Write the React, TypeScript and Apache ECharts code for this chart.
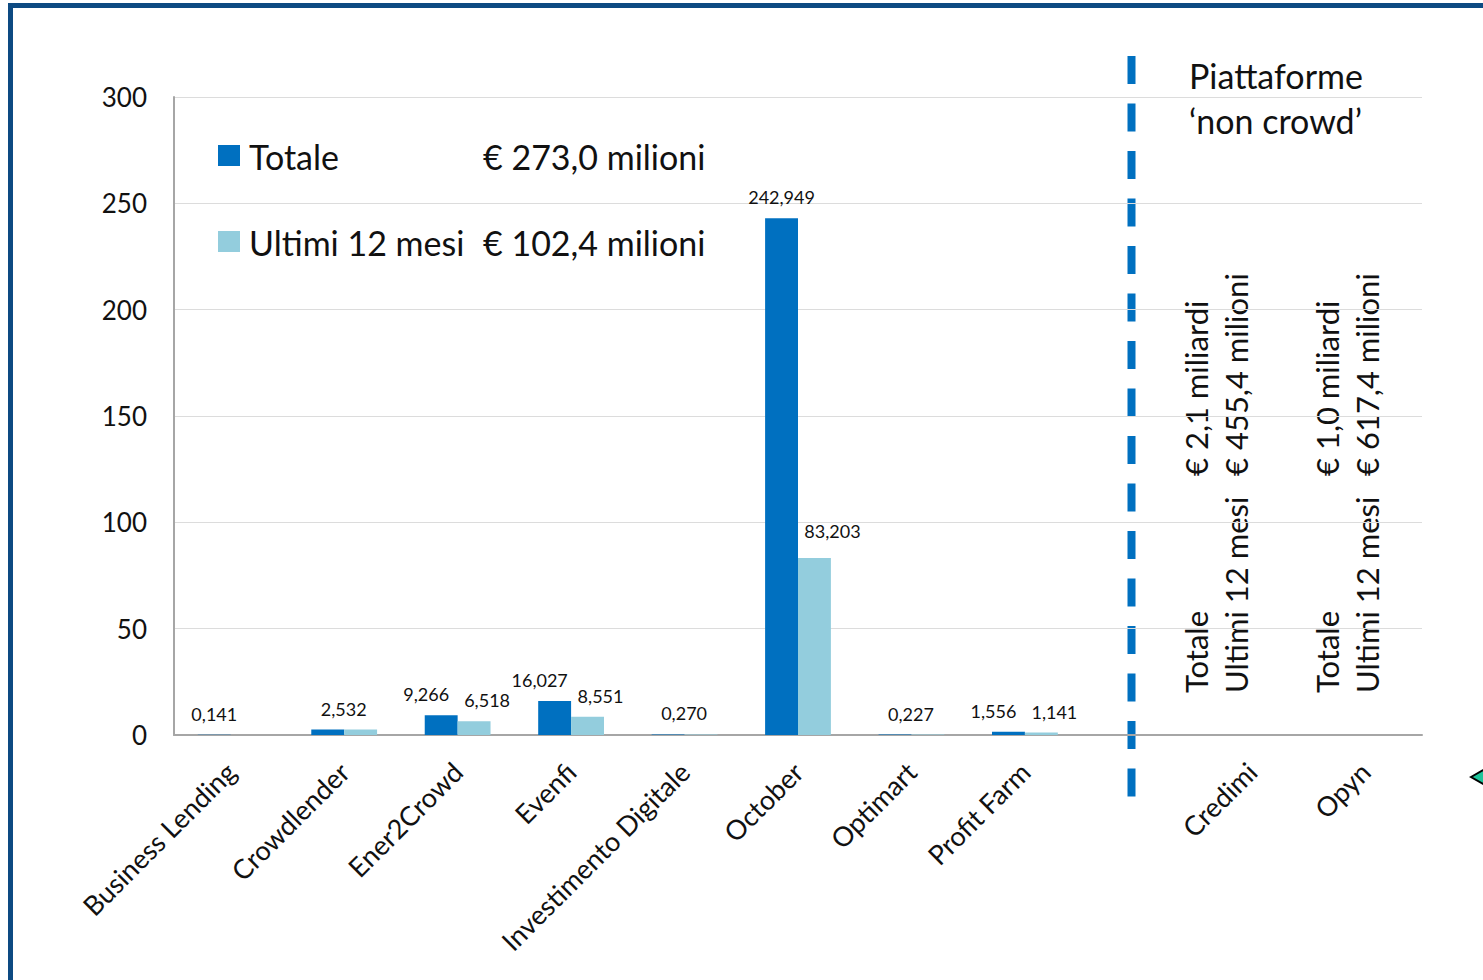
import React, { useEffect, useRef } from "react";
import * as echarts from "echarts";

const categories = [
  "Business Lending",
  "Crowdlender",
  "Ener2Crowd",
  "Evenfi",
  "Investimento Digitale",
  "October",
  "Optimart",
  "Profit Farm",
  "",
  "Credimi",
  "Opyn",
];
const totale: (number | null)[] = [0.141, 2.532, 9.266, 16.027, 0.27, 242.949, 0.227, 1.556, null, null, null];
const ultimi12: (number | null)[] = [null, 2.532, 6.518, 8.551, 0.27, 83.203, 0.227, 1.141, null, null, null];
const yTicks = [0, 50, 100, 150, 200, 250, 300];

const legendRows = [
  { name: "Totale", amount: "€ 273,0 milioni" },
  { name: "Ultimi 12 mesi", amount: "€ 102,4 milioni" },
];
const nonCrowdTitle = ["Piattaforme", "‘non crowd’"];
const nonCrowd = [
  { name: "Credimi", totale: "€ 2,1 miliardi", ultimi: "€ 455,4 milioni" },
  { name: "Opyn", totale: "€ 1,0 miliardi", ultimi: "€ 617,4 milioni" },
];

const DARK = "#0070c0";
const LIGHT = "#93cddd";
const FONT = "Lato, 'Open Sans', sans-serif";
const TXT = "#111";

const fmt = (v: number) => v.toFixed(3).replace(".", ",");

export default function App() {
  const ref = useRef<HTMLDivElement>(null);
  useEffect(() => {
    if (!ref.current) return;
    const chart = echarts.init(ref.current, null, { renderer: "svg" });

    const darkData = totale.map((v, i) => {
      const u = ultimi12[i];
      let dx = 0;
      if (v != null && u != null && u === v) dx = 16;
      else if (v != null && u != null && Math.abs(v - u) < 10) dx = -15;
      return {
        value: v,
        label: { show: v != null, offset: [dx, 0] },
      };
    });
    const lightData = ultimi12.map((u, i) => {
      const v = totale[i];
      const far = v != null && u != null && Math.abs(v - u) >= 10;
      return {
        value: u,
        label: { show: u != null && u !== v, offset: [far ? 18 : 13, far ? -6 : 0] },
      };
    });

    const labelStyle = {
      position: "top" as const,
      distance: 12,
      fontSize: 18,
      fontFamily: FONT,
      color: TXT,
      formatter: (p: any) => fmt(p.value),
    };

    const graphics: any[] = [];
    // outer frame
    graphics.push({
      type: "rect",
      shape: { x: 10.5, y: 5.5, width: 1520, height: 1020 },
      style: { fill: "none", stroke: "#0d4a82", lineWidth: 5 },
      silent: true,
    });
    // legend
    legendRows.forEach((r, i) => {
      const cy = 156 + i * 86;
      graphics.push({
        type: "rect",
        shape: { x: 218, y: cy - 11, width: 22, height: 21 },
        style: { fill: i === 0 ? DARK : LIGHT },
      });
      graphics.push({
        type: "text",
        x: 249,
        y: cy,
        style: { text: r.name, font: `34px ${FONT}`, fill: TXT, textVerticalAlign: "middle" },
      });
      graphics.push({
        type: "text",
        x: 483,
        y: cy,
        style: { text: r.amount, font: `34px ${FONT}`, fill: TXT, textVerticalAlign: "middle" },
      });
    });
    // separator
    graphics.push({
      type: "line",
      shape: { x1: 1131.5, y1: 56, x2: 1131.5, y2: 798 },
      style: { stroke: DARK, lineWidth: 8, lineDash: [28, 19.5] },
    });
    nonCrowdTitle.forEach((t, i) => {
      graphics.push({
        type: "text",
        x: 1189,
        y: 75 + i * 45,
        style: { text: t, font: `34px ${FONT}`, fill: TXT, textVerticalAlign: "middle" },
      });
    });
    const colX = [
      [1196, 1236],
      [1327, 1367],
    ];
    nonCrowd.forEach((p, k) => {
      const rows = [
        ["Totale", p.totale],
        ["Ultimi 12 mesi", p.ultimi],
      ];
      rows.forEach((row, j) => {
        const x = colX[k][j];
        graphics.push({
          type: "text",
          x,
          y: 693,
          rotation: Math.PI / 2,
          style: { text: row[0], font: `31px ${FONT}`, fill: TXT, textAlign: "left", textVerticalAlign: "middle" },
        });
        graphics.push({
          type: "text",
          x,
          y: 476,
          rotation: Math.PI / 2,
          style: { text: row[1], font: `31px ${FONT}`, fill: TXT, textAlign: "left", textVerticalAlign: "middle" },
        });
      });
    });
    // green arrow at right edge
    graphics.push({
      type: "polygon",
      shape: { points: [[1471, 777], [1490, 766], [1490, 788]] },
      style: { fill: "#1ec59b", stroke: "#000", lineWidth: 2 },
    });

    chart.setOption({
      animation: false,
      backgroundColor: "#fff",
      grid: { left: 174, right: 61, top: 97, bottom: 245, containLabel: false },
      xAxis: {
        type: "category",
        data: categories,
        axisLine: { show: true, lineStyle: { color: "#a6a6a6", width: 2 } },
        axisTick: { show: false },
        axisLabel: {
          interval: 0,
          rotate: 45,
          margin: 32,
          fontSize: 27,
          fontFamily: FONT,
          color: TXT,
        },
      },
      yAxis: {
        type: "value",
        min: yTicks[0],
        max: yTicks[yTicks.length - 1],
        interval: 50,
        axisLine: { show: true, lineStyle: { color: "#a6a6a6", width: 2 } },
        axisTick: { show: false },
        axisLabel: { fontSize: 26, fontFamily: FONT, color: TXT, margin: 27 },
        splitLine: { show: true, lineStyle: { color: "#dcdcdc", width: 1 } },
      },
      series: [
        {
          name: "Totale",
          type: "bar",
          data: darkData,
          itemStyle: { color: DARK },
          barGap: "0%",
          barCategoryGap: "42%",
          label: labelStyle,
        },
        {
          name: "Ultimi 12 mesi",
          type: "bar",
          data: lightData,
          itemStyle: { color: LIGHT },
          barGap: "0%",
          barCategoryGap: "42%",
          label: labelStyle,
        },
      ],
      graphic: graphics,
    });
    return () => chart.dispose();
  }, []);
  return (
    <div
      ref={ref}
      style={{ position: "fixed", left: 0, top: 0, width: 1483, height: 980, background: "#fff" }}
    />
  );
}
